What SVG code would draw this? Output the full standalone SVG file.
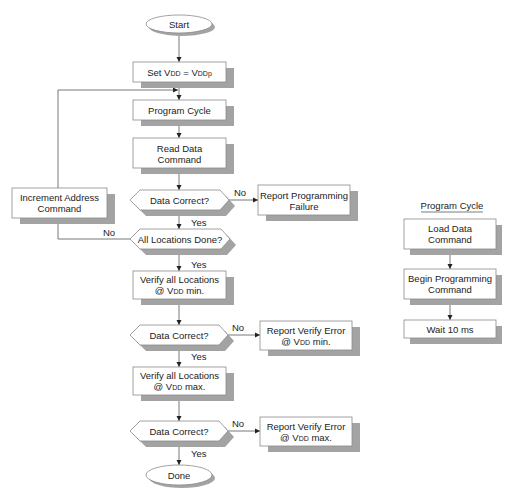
<svg xmlns="http://www.w3.org/2000/svg" width="517" height="500" viewBox="0 0 517 500">
<defs>
<marker id="ah" markerWidth="6" markerHeight="6" refX="5" refY="3" orient="auto" markerUnits="userSpaceOnUse">
<path d="M0,0.5 L5,3 L0,5.5 Z" fill="#222"/>
</marker>
<style>
.box{fill:#fff;stroke:#8a8a8a;stroke-width:0.8}
.sh{fill:#a3a3a3;stroke:none}
.t{font-family:"Liberation Sans",Arial,sans-serif;font-size:9.5px;fill:#222;text-anchor:middle}
.l{font-family:"Liberation Sans",Arial,sans-serif;font-size:9.5px;fill:#222}
.c{fill:none;stroke:#555;stroke-width:0.8}
.s{font-size:7px}
</style>
</defs>
<rect width="517" height="500" fill="#fff"/>
<g id="connectors">
<path class="c" d="M179,33 V62" marker-end="url(#ah)"/>
<path class="c" d="M179,82 V100" marker-end="url(#ah)"/>
<path class="c" d="M179,120 V138" marker-end="url(#ah)"/>
<path class="c" d="M179,168 V190" marker-end="url(#ah)"/>
<path class="c" d="M229,200 H258" marker-end="url(#ah)"/>
<text class="l" x="234" y="196">No</text>
<path class="c" d="M179,210 V229" marker-end="url(#ah)"/>
<text class="l" x="191" y="226">Yes</text>
<path class="c" d="M130,239 H58 V218" marker-end="url(#ah)"/>
<text class="l" x="103" y="236">No</text>
<path class="c" d="M58,188 V90 H178" marker-end="url(#ah)"/>
<path class="c" d="M179,249 V271" marker-end="url(#ah)"/>
<text class="l" x="191" y="268">Yes</text>
<path class="c" d="M179,299 V325" marker-end="url(#ah)"/>
<path class="c" d="M228,335 H260" marker-end="url(#ah)"/>
<text class="l" x="232" y="331">No</text>
<path class="c" d="M179,345 V367" marker-end="url(#ah)"/>
<text class="l" x="191" y="360">Yes</text>
<path class="c" d="M179,395 V421" marker-end="url(#ah)"/>
<path class="c" d="M228,431 H260" marker-end="url(#ah)"/>
<text class="l" x="232" y="427">No</text>
<path class="c" d="M179,441 V465" marker-end="url(#ah)"/>
<text class="l" x="191" y="457">Yes</text>
<path class="c" d="M450,249 V269" marker-end="url(#ah)"/>
<path class="c" d="M450,299 V320" marker-end="url(#ah)"/>
</g>
<g id="start">
<ellipse class="sh" cx="182" cy="27" rx="33" ry="9"/>
<ellipse class="box" cx="179" cy="24" rx="33" ry="9"/>
<text class="t" x="179" y="27.5">Start</text>
</g>
<g id="set-vdd">
<rect class="sh" x="141" y="68" width="93" height="20"/>
<rect class="box" x="133" y="62" width="93" height="20"/>
<text class="t" x="179.5" y="75.5">Set V<tspan class="s">DD</tspan> = V<tspan class="s">DDp</tspan></text>
</g>
<g id="program-cycle">
<rect class="sh" x="141" y="106" width="93" height="20"/>
<rect class="box" x="133" y="100" width="93" height="20"/>
<text class="t" x="179.5" y="113.5">Program Cycle</text>
</g>
<g id="read-data">
<rect class="sh" x="141" y="144" width="93" height="30"/>
<rect class="box" x="133" y="138" width="93" height="30"/>
<text class="t" x="179.5" y="152">Read Data</text>
<text class="t" x="179.5" y="163">Command</text>
</g>
<g id="data-correct-1">
<path class="sh" d="M136,206 L146,196 L226,196 L235,206 L226,216 L146,216 Z"/>
<path class="box" d="M130,200 L140,190 L220,190 L229,200 L220,210 L140,210 Z"/>
<text class="t" x="179.5" y="203.5">Data Correct?</text>
</g>
<g id="report-programming-failure">
<rect class="sh" x="266" y="191" width="92" height="30"/>
<rect class="box" x="258" y="185" width="92" height="30"/>
<text class="t" x="304" y="199">Report Programming</text>
<text class="t" x="304" y="210">Failure</text>
</g>
<g id="all-locations-done">
<path class="sh" d="M136,245 L146,235 L227,235 L236,245 L227,255 L146,255 Z"/>
<path class="box" d="M130,239 L140,229 L221,229 L230,239 L221,249 L140,249 Z"/>
<text class="t" x="180" y="242.5">All Locations Done?</text>
</g>
<g id="increment-address">
<rect class="sh" x="20" y="194" width="95" height="30"/>
<rect class="box" x="12" y="188" width="95" height="30"/>
<text class="t" x="59.5" y="201">Increment Address</text>
<text class="t" x="59.5" y="212">Command</text>
</g>
<g id="verify-min">
<rect class="sh" x="141" y="277" width="93" height="28"/>
<rect class="box" x="133" y="271" width="93" height="28"/>
<text class="t" x="179.5" y="283">Verify all Locations</text>
<text class="t" x="179.5" y="294">@ V<tspan class="s">DD</tspan> min.</text>
</g>
<g id="data-correct-2">
<path class="sh" d="M136,341 L146,331 L225,331 L234,341 L225,351 L146,351 Z"/>
<path class="box" d="M130,335 L140,325 L219,325 L228,335 L219,345 L140,345 Z"/>
<text class="t" x="179" y="338.5">Data Correct?</text>
</g>
<g id="report-verify-min">
<rect class="sh" x="268" y="327" width="92" height="29"/>
<rect class="box" x="260" y="321" width="92" height="29"/>
<text class="t" x="306" y="334">Report Verify Error</text>
<text class="t" x="306" y="345">@ V<tspan class="s">DD</tspan> min.</text>
</g>
<g id="verify-max">
<rect class="sh" x="141" y="373" width="93" height="28"/>
<rect class="box" x="133" y="367" width="93" height="28"/>
<text class="t" x="179.5" y="379">Verify all Locations</text>
<text class="t" x="179.5" y="390">@ V<tspan class="s">DD</tspan> max.</text>
</g>
<g id="data-correct-3">
<path class="sh" d="M136,437 L146,427 L225,427 L234,437 L225,447 L146,447 Z"/>
<path class="box" d="M130,431 L140,421 L219,421 L228,431 L219,441 L140,441 Z"/>
<text class="t" x="179" y="434.5">Data Correct?</text>
</g>
<g id="report-verify-max">
<rect class="sh" x="268" y="423" width="92" height="29"/>
<rect class="box" x="260" y="417" width="92" height="29"/>
<text class="t" x="306" y="430">Report Verify Error</text>
<text class="t" x="306" y="441">@ V<tspan class="s">DD</tspan> max.</text>
</g>
<g id="done">
<ellipse class="sh" cx="182" cy="478" rx="33" ry="10"/>
<ellipse class="box" cx="179" cy="475" rx="33" ry="10"/>
<text class="t" x="179" y="478.5">Done</text>
</g>
<g id="program-cycle-title">
<text class="t" x="452" y="209">Program Cycle</text>
<line x1="421" y1="212" x2="483" y2="212" stroke="#444" stroke-width="0.7"/>
</g>
<g id="load-data">
<rect class="sh" x="410" y="225" width="92" height="30"/>
<rect class="box" x="404" y="219" width="92" height="30"/>
<text class="t" x="450" y="232">Load Data</text>
<text class="t" x="450" y="243">Command</text>
</g>
<g id="begin-programming">
<rect class="sh" x="410" y="275" width="92" height="30"/>
<rect class="box" x="404" y="269" width="92" height="30"/>
<text class="t" x="450" y="282">Begin Programming</text>
<text class="t" x="450" y="293">Command</text>
</g>
<g id="wait">
<rect class="sh" x="410" y="326" width="92" height="18"/>
<rect class="box" x="404" y="320" width="92" height="18"/>
<text class="t" x="450" y="332.5">Wait 10 ms</text>
</g>
</svg>
